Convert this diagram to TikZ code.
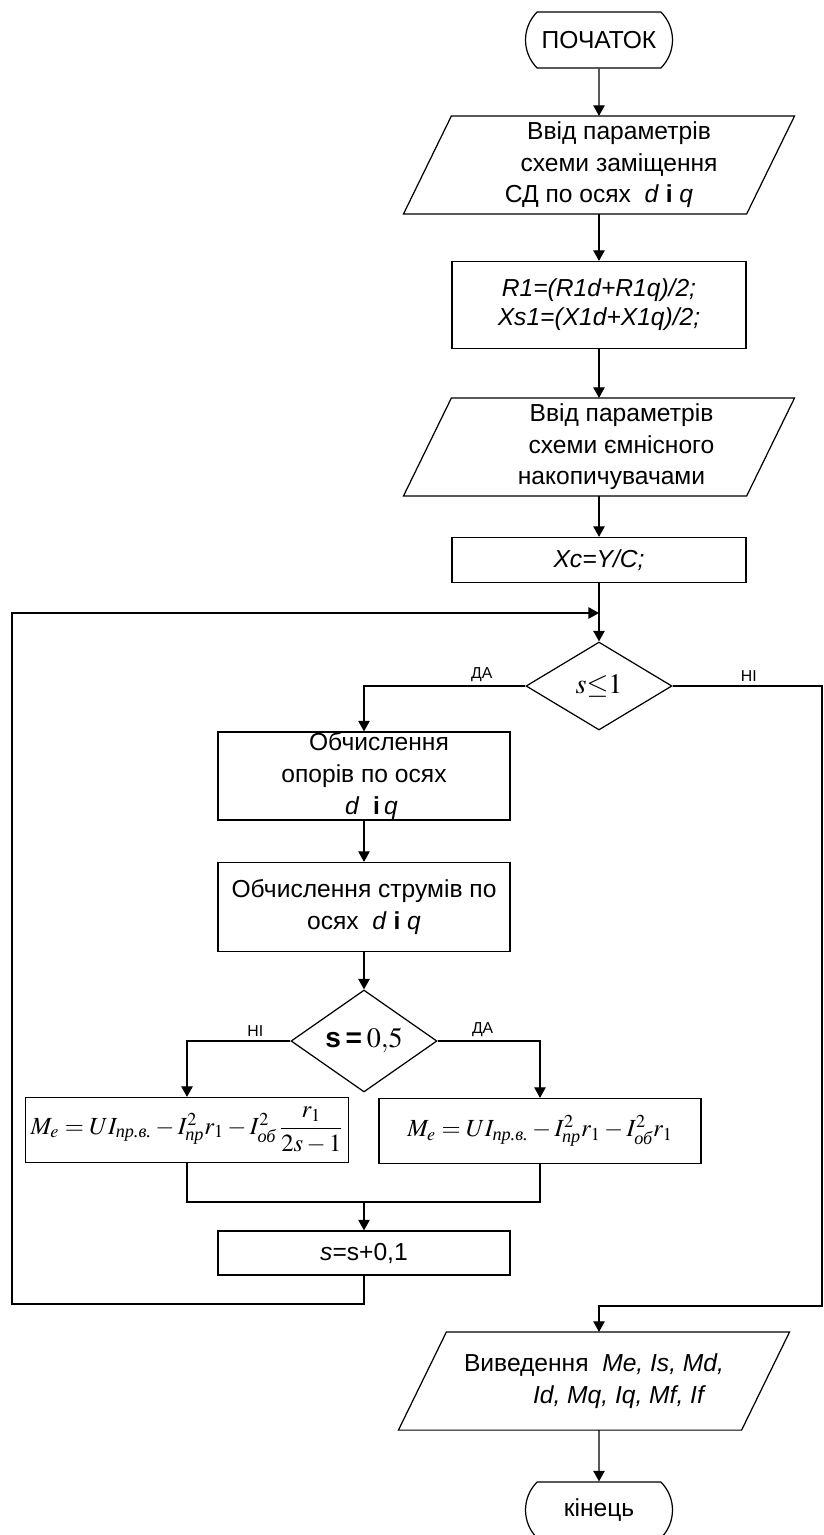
\documentclass[tikz,border=0pt]{standalone}
\usepackage{amsmath}
\usepackage{mathptmx}
\usepackage[no-math]{fontspec}
\setmainfont{Liberation Sans}
\newfontfamily\cyrserif{Liberation Serif}
\usetikzlibrary{shapes.geometric,shapes.misc,arrows.meta,calc}

\newcommand{\cyrsub}[1]{\text{\cyrserif\itshape #1}}

\tikzset{
  base/.style={draw, line width=0.7pt, font=\fontsize{14}{18}\selectfont,
    align=center, inner sep=0pt},
  term/.style={base, rounded rectangle, rounded rectangle arc length=90,
    minimum width=2.94cm, minimum height=1.12cm},
  proc/.style={base, rectangle, minimum width=5.88cm},
  io/.style={base, draw=none, minimum width=6.84cm, minimum height=1.94cm},
  dec/.style={base, diamond, minimum width=2.92cm, minimum height=1.76cm},
  formula/.style={proc, font=\fontsize{14}{17}\selectfont, minimum height=1.3cm},
  line/.style={line width=0.7pt},
  arr/.style={line, -{Triangle[length=6pt,width=6.5pt]}},
  yn/.style={font=\fontsize{9}{10}\selectfont, inner sep=2pt},
}

\begin{document}
\begin{tikzpicture}[x=0.02cm, y=-0.02cm]
  \useasboundingbox (0,0) rectangle (823,1535);

  % blocks
  \node[term] (start) at (599,40) {ПОЧАТОК};
  \node[io] (in1) at (599,165) {\hspace*{0.8cm}Ввід параметрів\\\hspace*{0.8cm}схеми заміщення\\СД по осях\ \ \textit{d} \textbf{і} \textit{q}};
  \node[proc, minimum height=1.74cm, font=\fontsize{14}{16.5}\selectfont\itshape] (rr) at (599,305)
    {R1=(R1d+R1q)/2;\\Xs1=(X1d+X1q)/2;};
  \node[io] (in2) at (599,447) {\hspace*{0.9cm}Ввід параметрів\\\hspace*{0.9cm}схеми ємнісного\\\hspace*{0.5cm}накопичувачами};
  \node[proc, minimum height=0.9cm] (xc) at (599,560) {\textit{Xc=Y/C;}};
  \coordinate (join) at (599,613);
  \node[dec, font=\fontsize{16}{18}\selectfont] (d1) at (599,686) {$s{\leq}1$};

  \node[proc, minimum width=5.84cm, minimum height=1.76cm] (opor) at (364,776)
    {\hspace*{0.6cm}Обчислення\\опорів по осях\\\hspace*{0.3cm}\textit{d}\ \ \textbf{і}\,\textit{q}};
  \node[proc, minimum width=5.84cm, minimum height=1.78cm] (strum) at (364,907)
    {Обчислення струмів по\\осях\ \ \textit{d} \textbf{і} \textit{q}};
  \node[dec, font=\fontsize{16}{18}\selectfont] (d2) at (364,1041) {\textbf{s\,=}\,$0{,}5$};

  \node[formula, minimum width=6.46cm] (mleft) at (187,1130)
    {$M_e=UI_{\cyrsub{пр.в.}}-I^2_{\cyrsub{пр}}r_1-I^2_{\cyrsub{об}}\,\dfrac{r_1}{2s-1}$};
  \node[formula, minimum width=6.44cm] (mright) at (540,1131)
    {$M_e=UI_{\cyrsub{пр.в.}}-I^2_{\cyrsub{пр}}r_1-I^2_{\cyrsub{об}}r_1$};
  \coordinate (merge) at (364,1202);
  \node[proc, minimum width=5.84cm, minimum height=0.88cm] (inc) at (364,1253) {\textit{s}=s+0,1};
  \coordinate (loopb) at (12,1304);

  \coordinate (exitb) at (822,1306);
  \node[io, align=left] (out) at (594,1381)
    {Виведення\ \ \textit{Me, Is, Md,}\\\hspace*{1.38cm}\textit{Id, Mq, Iq, Mf, If}};
  \node[term] (end) at (599,1510) {кінець};

  % parallelograms around io nodes
  \foreach \n in {in1,in2,out}
    \draw[line] ($(\n.south west)+(-24,0)$) -- ($(\n.north west)+(24,0)$)
      -- ($(\n.north east)+(24,0)$) -- ($(\n.south east)+(-24,0)$) -- cycle;

  % connectors
  \draw[arr] (start) -- (in1);
  \draw[arr] (in1) -- (rr);
  \draw[arr] (rr) -- (in2);
  \draw[arr] (in2) -- (xc);
  \draw[line] (xc) -- (join);
  \draw[arr] (join) -- (d1);
  \draw[arr] (d1.west) -- node[yn, pos=0.27, above]{ДА} (d1.west -| opor) -- (opor);
  \draw[arr] (d1.east) -- node[yn, pos=0.51, above]{НІ} (d1.east -| exitb) -- (exitb)
    -| (out.north -| end);
  \draw[arr] (opor) -- (strum);
  \draw[arr] (strum) -- (d2);
  \draw[arr] (d2.west) -- node[yn, pos=0.34, above]{НІ} (d2.west -| mleft) -- (mleft);
  \draw[arr] (d2.east) -- node[yn, pos=0.44, above]{ДА} (d2.east -| mright) -- (mright);
  \draw[line] (mleft) |- (merge) -| (mright);
  \draw[arr] (merge) -- (inc);
  \draw[arr] (inc) |- (loopb) |- (join);
  \draw[arr] (end |- out.south) -- (end);
\end{tikzpicture}
\end{document}
